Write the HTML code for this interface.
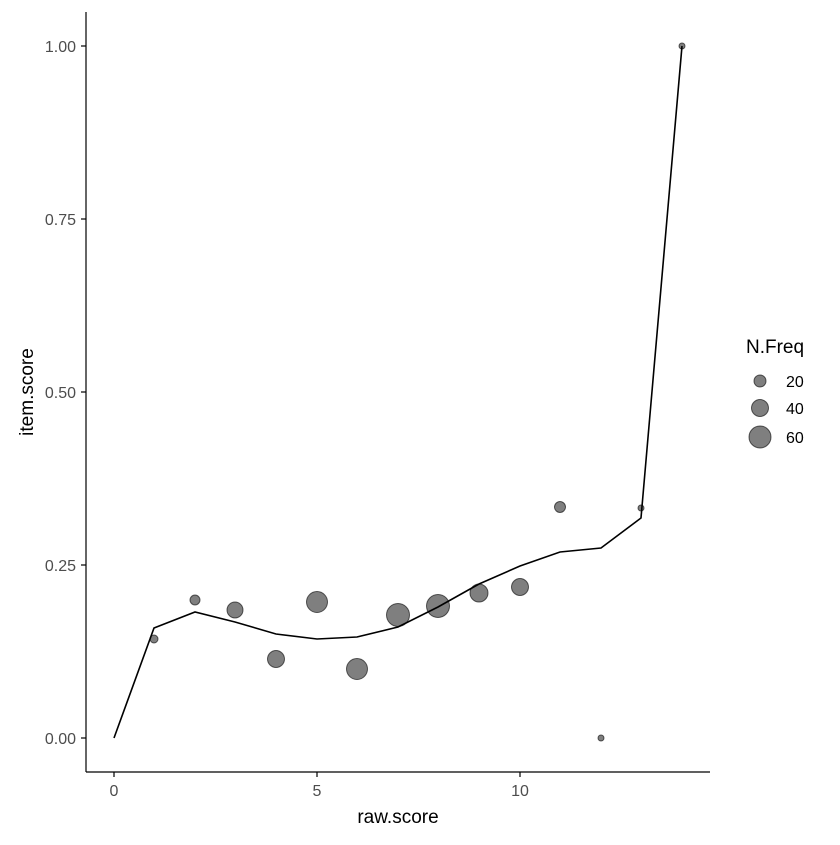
<!DOCTYPE html>
<html><head><meta charset="utf-8"><style>body{margin:0;background:#fff}</style></head><body>
<svg width="840" height="840" xmlns="http://www.w3.org/2000/svg" font-family="Liberation Sans, sans-serif">
<rect width="840" height="840" fill="#fff"/>
<g fill="rgba(0,0,0,0.5)" stroke="rgba(0,0,0,0.6)" stroke-width="1">
<circle cx="154" cy="639" r="4"/>
<circle cx="195" cy="600" r="5"/>
<circle cx="235" cy="610" r="8"/>
<circle cx="276" cy="659" r="8.5"/>
<circle cx="317" cy="602" r="10.5"/>
<circle cx="357" cy="669" r="10.5"/>
<circle cx="398" cy="615" r="11.5"/>
<circle cx="438" cy="606" r="11.5"/>
<circle cx="479" cy="593" r="9"/>
<circle cx="520" cy="587" r="8.5"/>
<circle cx="560" cy="507" r="5.5"/>
<circle cx="601" cy="738" r="3"/>
<circle cx="641" cy="508" r="3"/>
<circle cx="682" cy="46" r="3"/>
</g>
<polyline fill="none" stroke="#000" stroke-width="1.6" points="114,738 154,628 195,612 235,622 276,634 317,639 357,637 398,627 438,607 479,584 520,566 560,552 601,548 641,518 682,46"/>
<g stroke="#000" stroke-width="1.2">
<line x1="86" y1="12" x2="86" y2="772"/>
<line x1="86" y1="772" x2="710" y2="772"/>
<line x1="81" y1="46" x2="86" y2="46"/><line x1="81" y1="219" x2="86" y2="219"/><line x1="81" y1="392" x2="86" y2="392"/><line x1="81" y1="565" x2="86" y2="565"/><line x1="81" y1="738" x2="86" y2="738"/>
<line x1="114" y1="772" x2="114" y2="777"/><line x1="317" y1="772" x2="317" y2="777"/><line x1="520" y1="772" x2="520" y2="777"/>
</g>
<g font-size="16" fill="#4d4d4d" text-anchor="end">
<text x="76" y="52">1.00</text><text x="76" y="225">0.75</text><text x="76" y="398">0.50</text><text x="76" y="571">0.25</text><text x="76" y="744">0.00</text>
</g>
<g font-size="16" fill="#4d4d4d" text-anchor="middle">
<text x="114" y="796">0</text><text x="317" y="796">5</text><text x="520" y="796">10</text>
</g>
<text x="398" y="823" font-size="19" text-anchor="middle">raw.score</text>
<text transform="translate(33,392) rotate(-90)" font-size="19" text-anchor="middle">item.score</text>
<text x="746" y="353" font-size="19">N.Freq</text>
<g fill="rgba(0,0,0,0.5)" stroke="rgba(0,0,0,0.6)">
<circle cx="760" cy="381" r="6"/><circle cx="760" cy="408" r="8.5"/><circle cx="760" cy="437" r="11"/>
</g>
<g font-size="16"><text x="786" y="387">20</text><text x="786" y="414">40</text><text x="786" y="443">60</text></g>
</svg>
</body></html>
